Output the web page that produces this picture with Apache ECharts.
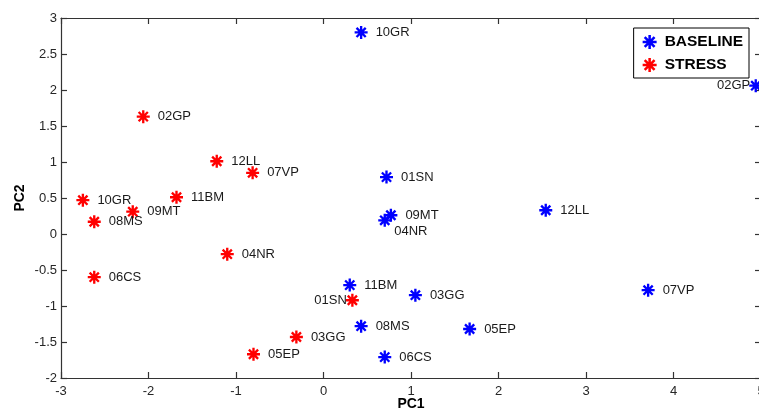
<!DOCTYPE html>
<html>
<head>
<meta charset="utf-8">
<script src="https://cdn.jsdelivr.net/npm/echarts@6/dist/echarts.min.js"></script>
<style>
  html, body { margin: 0; padding: 0; background: #fff; }
  #main { width: 759px; height: 415px; }
</style>
</head>
<body>
<div id="main"></div>
<script>
// PCA scores, one entry per subject
var baselineNames = ['10GR', '01SN', '09MT', '04NR', '11BM', '03GG', '08MS', '06CS', '05EP', '12LL', '07VP', '02GP'];
var baselineX = [0.43, 0.72, 0.77, 0.70, 0.30, 1.05, 0.43, 0.70, 1.67, 2.54, 3.71, 4.94];
var baselineY = [2.80, 0.79, 0.26, 0.19, -0.71, -0.85, -1.28, -1.71, -1.32, 0.33, -0.78, 2.06];

var stressNames = ['02GP', '12LL', '07VP', '10GR', '11BM', '09MT', '08MS', '04NR', '06CS', '05EP', '03GG', '01SN'];
var stressX = [-2.06, -1.22, -0.81, -2.75, -1.68, -2.18, -2.62, -1.10, -2.62, -0.80, -0.31, 0.33];
var stressY = [1.63, 1.01, 0.85, 0.47, 0.51, 0.31, 0.17, -0.28, -0.60, -1.67, -1.43, -0.92];

var xTicks = [-3, -2, -1, 0, 1, 2, 3, 4, 5];
var yTicks = [-2, -1.5, -1, -0.5, 0, 0.5, 1, 1.5, 2, 2.5, 3];

// labels that don't sit to the right of their marker
var labelLeft = { BASELINE: ['02GP'], STRESS: ['01SN'] };
var labelBelow = { BASELINE: ['04NR'], STRESS: [] };

var FONT = '"Liberation Sans", Arial, sans-serif';

// matlab-like '*' marker: four thin bars crossing at the centre
function asterisk(L, w) {
    var d = '';
    for (var k = 0; k < 4; k++) {
        var a = k * Math.PI / 4, c = Math.cos(a), s = Math.sin(a);
        var pts = [[-L, -w], [L, -w], [L, w], [-L, w]].map(function (p) {
            return (p[0] * c - p[1] * s).toFixed(2) + ' ' + (p[0] * s + p[1] * c).toFixed(2);
        });
        d += 'M' + pts.join('L') + 'Z';
    }
    return 'path://' + d;
}
var star = asterisk(10, 1.8);

function buildData(group, names, xs, ys) {
    return names.map(function (n, i) {
        var item = { name: n, value: [xs[i], ys[i]] };
        if (labelLeft[group].indexOf(n) >= 0) {
            item.label = { position: 'left', distance: -1 };
        } else if (labelBelow[group].indexOf(n) >= 0) {
            item.label = { position: 'right', distance: 3, offset: [0, 11] };
        }
        return item;
    });
}

var myChart = echarts.init(document.getElementById('main'));

var axisLine = { show: true, onZero: false, lineStyle: { color: '#333', width: 1.2 } };
var axisTick = { show: true, inside: true, length: 6, lineStyle: { color: '#333', width: 1.2 } };
var axisLabel = { color: '#262626', fontSize: 13, fontFamily: FONT, margin: 7 };

function scatterSeries(name, color, data) {
    return {
        name: name,
        type: 'scatter',
        symbol: star,
        symbolSize: 13,
        symbolKeepAspect: true,
        itemStyle: { color: color, opacity: 1 },
        label: {
            show: true,
            position: 'right',
            distance: 8,
            formatter: '{b}',
            color: '#1a1a1a',
            fontSize: 13,
            fontFamily: FONT
        },
        emphasis: { disabled: true },
        data: data
    };
}

var option = {
    animation: false,
    backgroundColor: '#fff',
    grid: { left: 61, width: 700, top: 18, height: 360, containLabel: false, outerBoundsMode: 'none' },
    legend: {
        orient: 'vertical',
        right: 10,
        top: 28,
        data: ['BASELINE', 'STRESS'],
        icon: star,
        itemWidth: 20,
        itemHeight: 14,
        itemGap: 7,
        padding: [6, 6, 5, 9],
        borderColor: '#000',
        borderWidth: 1,
        backgroundColor: '#fff',
        textStyle: { color: '#000', fontWeight: 'bold', fontSize: 15.5, fontFamily: FONT }
    },
    xAxis: [{
        type: 'value',
        min: xTicks[0],
        max: xTicks[xTicks.length - 1],
        interval: 1,
        name: 'PC1',
        nameLocation: 'middle',
        nameGap: 19,
        nameMoveOverlap: false,
        nameTextStyle: { color: '#000', fontWeight: 'bold', fontSize: 14, fontFamily: FONT },
        axisLine: axisLine,
        axisTick: axisTick,
        axisLabel: axisLabel,
        splitLine: { show: false }
    }, {
        type: 'value',
        position: 'top',
        min: xTicks[0],
        max: xTicks[xTicks.length - 1],
        interval: 1,
        axisLine: axisLine,
        axisTick: axisTick,
        axisLabel: { show: false },
        splitLine: { show: false }
    }],
    yAxis: [{
        type: 'value',
        min: yTicks[0],
        max: yTicks[yTicks.length - 1],
        interval: 0.5,
        name: 'PC2',
        nameLocation: 'middle',
        nameGap: 34,
        nameMoveOverlap: false,
        nameTextStyle: { color: '#000', fontWeight: 'bold', fontSize: 14, fontFamily: FONT },
        axisLine: axisLine,
        axisTick: axisTick,
        axisLabel: { color: '#262626', fontSize: 13, fontFamily: FONT, margin: 4 },
        splitLine: { show: false }
    }, {
        type: 'value',
        position: 'right',
        min: yTicks[0],
        max: yTicks[yTicks.length - 1],
        interval: 0.5,
        axisLine: axisLine,
        axisTick: axisTick,
        axisLabel: { show: false },
        splitLine: { show: false }
    }],
    series: [
        scatterSeries('BASELINE', '#0000ff', buildData('BASELINE', baselineNames, baselineX, baselineY)),
        scatterSeries('STRESS', '#ff0000', buildData('STRESS', stressNames, stressX, stressY))
    ]
};

myChart.setOption(option);
</script>
</body>
</html>
